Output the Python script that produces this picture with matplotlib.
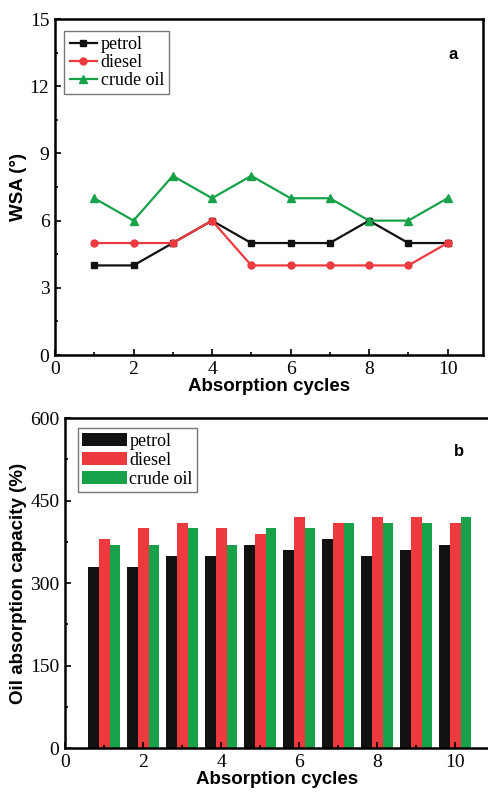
import numpy as np
import matplotlib
matplotlib.use("Agg")
import matplotlib.pyplot as plt
from matplotlib.ticker import MultipleLocator

# data
cycles = [1, 2, 3, 4, 5, 6, 7, 8, 9, 10]
wsa_petrol = [4, 4, 5, 6, 5, 5, 5, 6, 5, 5]
wsa_diesel = [5, 5, 5, 6, 4, 4, 4, 4, 4, 5]
wsa_crude = [7, 6, 8, 7, 8, 7, 7, 6, 6, 7]
cap_petrol = [330, 330, 350, 350, 370, 360, 380, 350, 360, 370]
cap_diesel = [380, 400, 410, 400, 390, 420, 410, 420, 420, 410]
cap_crude = [370, 370, 400, 370, 400, 400, 410, 410, 410, 420]
labels = ["petrol", "diesel", "crude oil"]

black = "#111111"
red = "#ec3a3f"
green = "#17a24a"
serif = "Liberation Serif"
sans = "Liberation Sans"

fig = plt.figure(figsize=(4.89, 7.93), dpi=100)
ax1 = fig.add_axes([0.1125, 0.5523, 0.875, 0.4237])
ax2 = fig.add_axes([0.133, 0.0567, 0.867, 0.416])

def style(ax):
    for s in ax.spines.values():
        s.set_linewidth(1.8)
    ax.tick_params(which="both", direction="in", width=1.2, labelsize=14)
    ax.tick_params(which="major", length=4, pad=4)
    ax.tick_params(which="minor", length=2.5)
    for t in ax.get_xticklabels() + ax.get_yticklabels():
        t.set_fontfamily(serif)

# panel a
ax1.plot(cycles, wsa_petrol, "-s", color=black, lw=1.6, ms=5, label=labels[0])
ax1.plot(cycles, wsa_diesel, "-o", color=red, lw=1.6, ms=5, label=labels[1])
ax1.plot(cycles, wsa_crude, "-^", color=green, lw=1.6, ms=5.5, label=labels[2])
ax1.set_xlim(0, 10.9)
ax1.set_ylim(0, 15)
ax1.xaxis.set_major_locator(MultipleLocator(2))
ax1.xaxis.set_minor_locator(MultipleLocator(1))
ax1.yaxis.set_major_locator(MultipleLocator(3))
ax1.yaxis.set_minor_locator(MultipleLocator(1.5))
style(ax1)
ax1.set_xlabel("Absorption cycles", fontfamily=sans, fontweight="bold", fontsize=13.5, labelpad=0)
ax1.set_ylabel("WSA (°)", fontfamily=sans, fontweight="bold", fontsize=13.5, labelpad=2)
leg = ax1.legend(loc="upper left", prop={"family": serif, "size": 13}, frameon=True,
                 fancybox=False, edgecolor="#555555", handlelength=1.5,
                 handletextpad=0.2, labelspacing=0.05, borderpad=0.3,
                 borderaxespad=0, bbox_to_anchor=(0.022, 0.965))
leg.get_frame().set_linewidth(1.0)
ax1.text(0.93, 0.895, "a", transform=ax1.transAxes, fontfamily=sans,
         fontweight="bold", fontsize=12, ha="center", va="center")

# panel b
x = np.array(cycles)
w = 0.28
ax2.bar(x - w, cap_petrol, w, color=black, label=labels[0])
ax2.bar(x, cap_diesel, w, color=red, label=labels[1])
ax2.bar(x + w, cap_crude, w, color=green, label=labels[2])
ax2.set_xlim(0, 10.87)
ax2.set_ylim(0, 600)
ax2.xaxis.set_major_locator(MultipleLocator(2))
ax2.xaxis.set_minor_locator(MultipleLocator(1))
ax2.yaxis.set_major_locator(MultipleLocator(150))
ax2.yaxis.set_minor_locator(MultipleLocator(75))
style(ax2)
ax2.set_xlabel("Absorption cycles", fontfamily=sans, fontweight="bold", fontsize=13.5, labelpad=0)
ax2.set_ylabel("Oil absorption capacity (%)", fontfamily=sans, fontweight="bold", fontsize=13.5, labelpad=2)
leg2 = ax2.legend(loc="upper left", prop={"family": serif, "size": 13}, frameon=True,
                  fancybox=False, edgecolor="#555555", handlelength=2.5,
                  handleheight=0.8, handletextpad=0.1, labelspacing=0.1,
                  borderpad=0.25, borderaxespad=0, bbox_to_anchor=(0.03, 0.97))
leg2.get_frame().set_linewidth(1.0)
ax2.text(0.93, 0.9, "b", transform=ax2.transAxes, fontfamily=sans,
         fontweight="bold", fontsize=12, ha="center", va="center")

fig.savefig("out.png", dpi=100)
